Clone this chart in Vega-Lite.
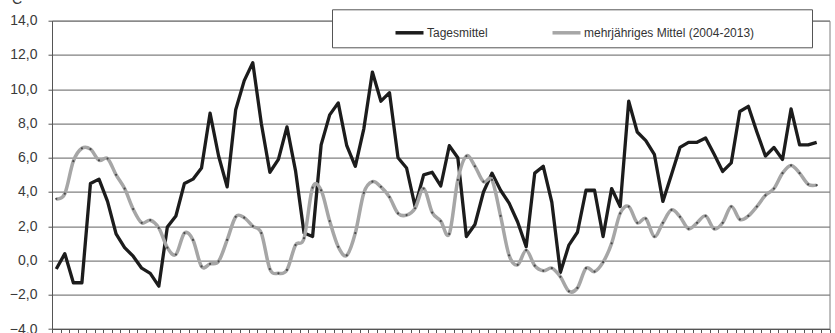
{
  "$schema": "https://vega.github.io/schema/vega-lite/v6.json",
  "width": 777.5,
  "height": 308.3,
  "autosize": {"type": "none"},
  "padding": {"left": 52, "top": 20.7, "right": 5.5, "bottom": 4},
  "background": "white",
  "config": {
    "view": {"stroke": "#7f7f7f", "strokeWidth": 1},
    "font": "Liberation Sans"
  },
  "data": {
    "values": [
      {"d": 1, "t": -0.5, "m": 3.6}, {"d": 2, "t": 0.4, "m": 3.9}, {"d": 3, "t": -1.3, "m": 5.8},
      {"d": 4, "t": -1.3, "m": 6.55}, {"d": 5, "t": 4.5, "m": 6.5}, {"d": 6, "t": 4.75, "m": 5.85},
      {"d": 7, "t": 3.45, "m": 5.95}, {"d": 8, "t": 1.55, "m": 5.0}, {"d": 9, "t": 0.75, "m": 4.2},
      {"d": 10, "t": 0.25, "m": 3.0}, {"d": 11, "t": -0.45, "m": 2.2}, {"d": 12, "t": -0.75, "m": 2.35},
      {"d": 13, "t": -1.5, "m": 1.9}, {"d": 14, "t": 1.95, "m": 0.75}, {"d": 15, "t": 2.6, "m": 0.35},
      {"d": 16, "t": 4.5, "m": 1.6}, {"d": 17, "t": 4.75, "m": 1.2}, {"d": 18, "t": 5.4, "m": -0.35},
      {"d": 19, "t": 8.6, "m": -0.2}, {"d": 20, "t": 6.1, "m": -0.05}, {"d": 21, "t": 4.3, "m": 1.2},
      {"d": 22, "t": 8.8, "m": 2.55}, {"d": 23, "t": 10.5, "m": 2.5}, {"d": 24, "t": 11.55, "m": 2.0},
      {"d": 25, "t": 8.0, "m": 1.6}, {"d": 26, "t": 5.15, "m": -0.5}, {"d": 27, "t": 5.9, "m": -0.75},
      {"d": 28, "t": 7.8, "m": -0.55}, {"d": 29, "t": 5.25, "m": 0.9}, {"d": 30, "t": 1.6, "m": 1.3},
      {"d": 31, "t": 1.4, "m": 4.25}, {"d": 32, "t": 6.75, "m": 4.1}, {"d": 33, "t": 8.5, "m": 2.3},
      {"d": 34, "t": 9.2, "m": 0.8}, {"d": 35, "t": 6.7, "m": 0.3}, {"d": 36, "t": 5.5, "m": 1.6},
      {"d": 37, "t": 7.7, "m": 3.95}, {"d": 38, "t": 11.0, "m": 4.6}, {"d": 39, "t": 9.3, "m": 4.3},
      {"d": 40, "t": 9.8, "m": 3.7}, {"d": 41, "t": 6.0, "m": 2.75}, {"d": 42, "t": 5.4, "m": 2.65},
      {"d": 43, "t": 3.15, "m": 3.05}, {"d": 44, "t": 5.0, "m": 4.2}, {"d": 45, "t": 5.15, "m": 2.8},
      {"d": 46, "t": 4.35, "m": 2.3}, {"d": 47, "t": 6.7, "m": 1.55}, {"d": 48, "t": 6.0, "m": 4.7},
      {"d": 49, "t": 1.4, "m": 6.1}, {"d": 50, "t": 2.1, "m": 5.5}, {"d": 51, "t": 4.0, "m": 4.6},
      {"d": 52, "t": 5.1, "m": 4.7}, {"d": 53, "t": 4.1, "m": 2.6}, {"d": 54, "t": 3.35, "m": 0.3},
      {"d": 55, "t": 2.25, "m": -0.25}, {"d": 56, "t": 0.8, "m": 0.6}, {"d": 57, "t": 5.1, "m": -0.3},
      {"d": 58, "t": 5.5, "m": -0.6}, {"d": 59, "t": 3.4, "m": -0.45}, {"d": 60, "t": -0.7, "m": -0.95},
      {"d": 61, "t": 0.9, "m": -1.8}, {"d": 62, "t": 1.65, "m": -1.6}, {"d": 63, "t": 4.1, "m": -0.45},
      {"d": 64, "t": 4.1, "m": -0.65}, {"d": 65, "t": 1.4, "m": -0.1}, {"d": 66, "t": 4.2, "m": 1.0},
      {"d": 67, "t": 3.15, "m": 2.75}, {"d": 68, "t": 9.3, "m": 3.15}, {"d": 69, "t": 7.5, "m": 2.2},
      {"d": 70, "t": 7.0, "m": 2.45}, {"d": 71, "t": 6.2, "m": 1.4}, {"d": 72, "t": 3.45, "m": 2.2},
      {"d": 73, "t": 5.0, "m": 2.95}, {"d": 74, "t": 6.6, "m": 2.55}, {"d": 75, "t": 6.9, "m": 1.85},
      {"d": 76, "t": 6.9, "m": 2.2}, {"d": 77, "t": 7.15, "m": 2.6}, {"d": 78, "t": 6.2, "m": 1.85},
      {"d": 79, "t": 5.2, "m": 2.2}, {"d": 80, "t": 5.7, "m": 3.15}, {"d": 81, "t": 8.7, "m": 2.4},
      {"d": 82, "t": 9.0, "m": 2.6}, {"d": 83, "t": 7.5, "m": 3.15}, {"d": 84, "t": 6.1, "m": 3.8},
      {"d": 85, "t": 6.6, "m": 4.2}, {"d": 86, "t": 5.9, "m": 5.1}, {"d": 87, "t": 8.85, "m": 5.55},
      {"d": 88, "t": 6.75, "m": 5.1}, {"d": 89, "t": 6.75, "m": 4.45}, {"d": 90, "t": 6.9, "m": 4.4}
    ]
  },
  "transform": [{"fold": ["t", "m"], "as": ["key", "val"]}],
  "encoding": {
    "x": {
      "field": "d",
      "type": "quantitative",
      "scale": {"domain": [0.5, 91.5], "nice": false, "zero": false},
      "axis": {
        "values": [0.5,1.5,2.5,3.5,4.5,5.5,6.5,7.5,8.5,9.5,10.5,11.5,12.5,13.5,14.5,15.5,16.5,17.5,18.5,19.5,20.5,21.5,22.5,23.5,24.5,25.5,26.5,27.5,28.5,29.5,30.5,31.5,32.5,33.5,34.5,35.5,36.5,37.5,38.5,39.5,40.5,41.5,42.5,43.5,44.5,45.5,46.5,47.5,48.5,49.5,50.5,51.5,52.5,53.5,54.5,55.5,56.5,57.5,58.5,59.5,60.5,61.5,62.5,63.5,64.5,65.5,66.5,67.5,68.5,69.5,70.5,71.5,72.5,73.5,74.5,75.5,76.5,77.5,78.5,79.5,80.5,81.5,82.5,83.5,84.5,85.5,86.5,87.5,88.5,89.5,90.5,91.5],
        "labels": false,
        "grid": false,
        "ticks": true,
        "tickSize": 5,
        "tickColor": "#555555",
        "domainColor": "#555555",
        "title": null
      }
    },
    "y": {
      "field": "val",
      "type": "quantitative",
      "scale": {"domain": [-4, 14], "nice": false, "zero": false},
      "axis": {
        "values": [-4, -2, 0, 2, 4, 6, 8, 10, 12, 14],
        "labelExpr": "replace(format(datum.value, '.1f'), '.', ',')",
        "grid": true,
        "gridColor": "#808080",
        "gridWidth": 1.2,
        "tickSize": 4,
        "tickColor": "#555555",
        "domainColor": "#555555",
        "labelFontSize": 14,
        "labelColor": "#3a3a3a",
        "labelPadding": 11,
        "title": "°C",
        "titleAngle": 0,
        "titleAlign": "left",
        "titleBaseline": "alphabetic",
        "titleX": -46,
        "titleY": -17,
        "titleFontSize": 14,
        "titleFontWeight": "normal",
        "titleColor": "#3a3a3a"
      }
    }
  },
  "layer": [
    {
      "transform": [{"filter": "datum.key === 't'"}],
      "mark": {"type": "line", "strokeWidth": 3.3, "strokeJoin": "round"},
      "encoding": {
        "color": {
          "datum": "Tagesmittel",
          "type": "nominal",
          "scale": {
            "domain": ["Tagesmittel", "mehrjähriges Mittel (2004-2013)"],
            "range": ["#1c1c1c", "#a6a6a6"]
          },
          "legend": {
            "orient": "none",
            "legendX": 280,
            "legendY": -11.4,
            "direction": "horizontal",
            "title": " ",
            "titleOrient": "left",
            "titlePadding": 54,
            "titleFontSize": 12,
            "padding": 7.5,
            "fillColor": "white",
            "strokeColor": "#555555",
            "symbolType": "stroke",
            "symbolSize": 784,
            "symbolStrokeWidth": 3.5,
            "labelFontSize": 12,
            "labelColor": "#333333",
            "labelOffset": 1.5,
            "labelLimit": 400,
            "columnPadding": 57,
            "labelExpr": "datum.value === 'Tagesmittel' ? datum.label : datum.label + '\u00a0\u00a0\u00a0\u00a0\u00a0\u00a0\u00a0\u00a0\u00a0\u00a0\u00a0\u00a0\u00a0\u00a0\u00a0\u200b'"
          }
        }
      }
    },
    {
      "transform": [{"filter": "datum.key === 'm'"}],
      "mark": {"type": "line", "strokeWidth": 3.5, "interpolate": "cardinal"},
      "encoding": {
        "color": {"datum": "mehrjähriges Mittel (2004-2013)", "type": "nominal"}
      }
    },
    {
      "transform": [{"filter": "datum.key === 'm'"}],
      "mark": {"type": "point", "filled": true, "size": 5, "color": "#4a4a4a", "opacity": 1}
    }
  ]
}
